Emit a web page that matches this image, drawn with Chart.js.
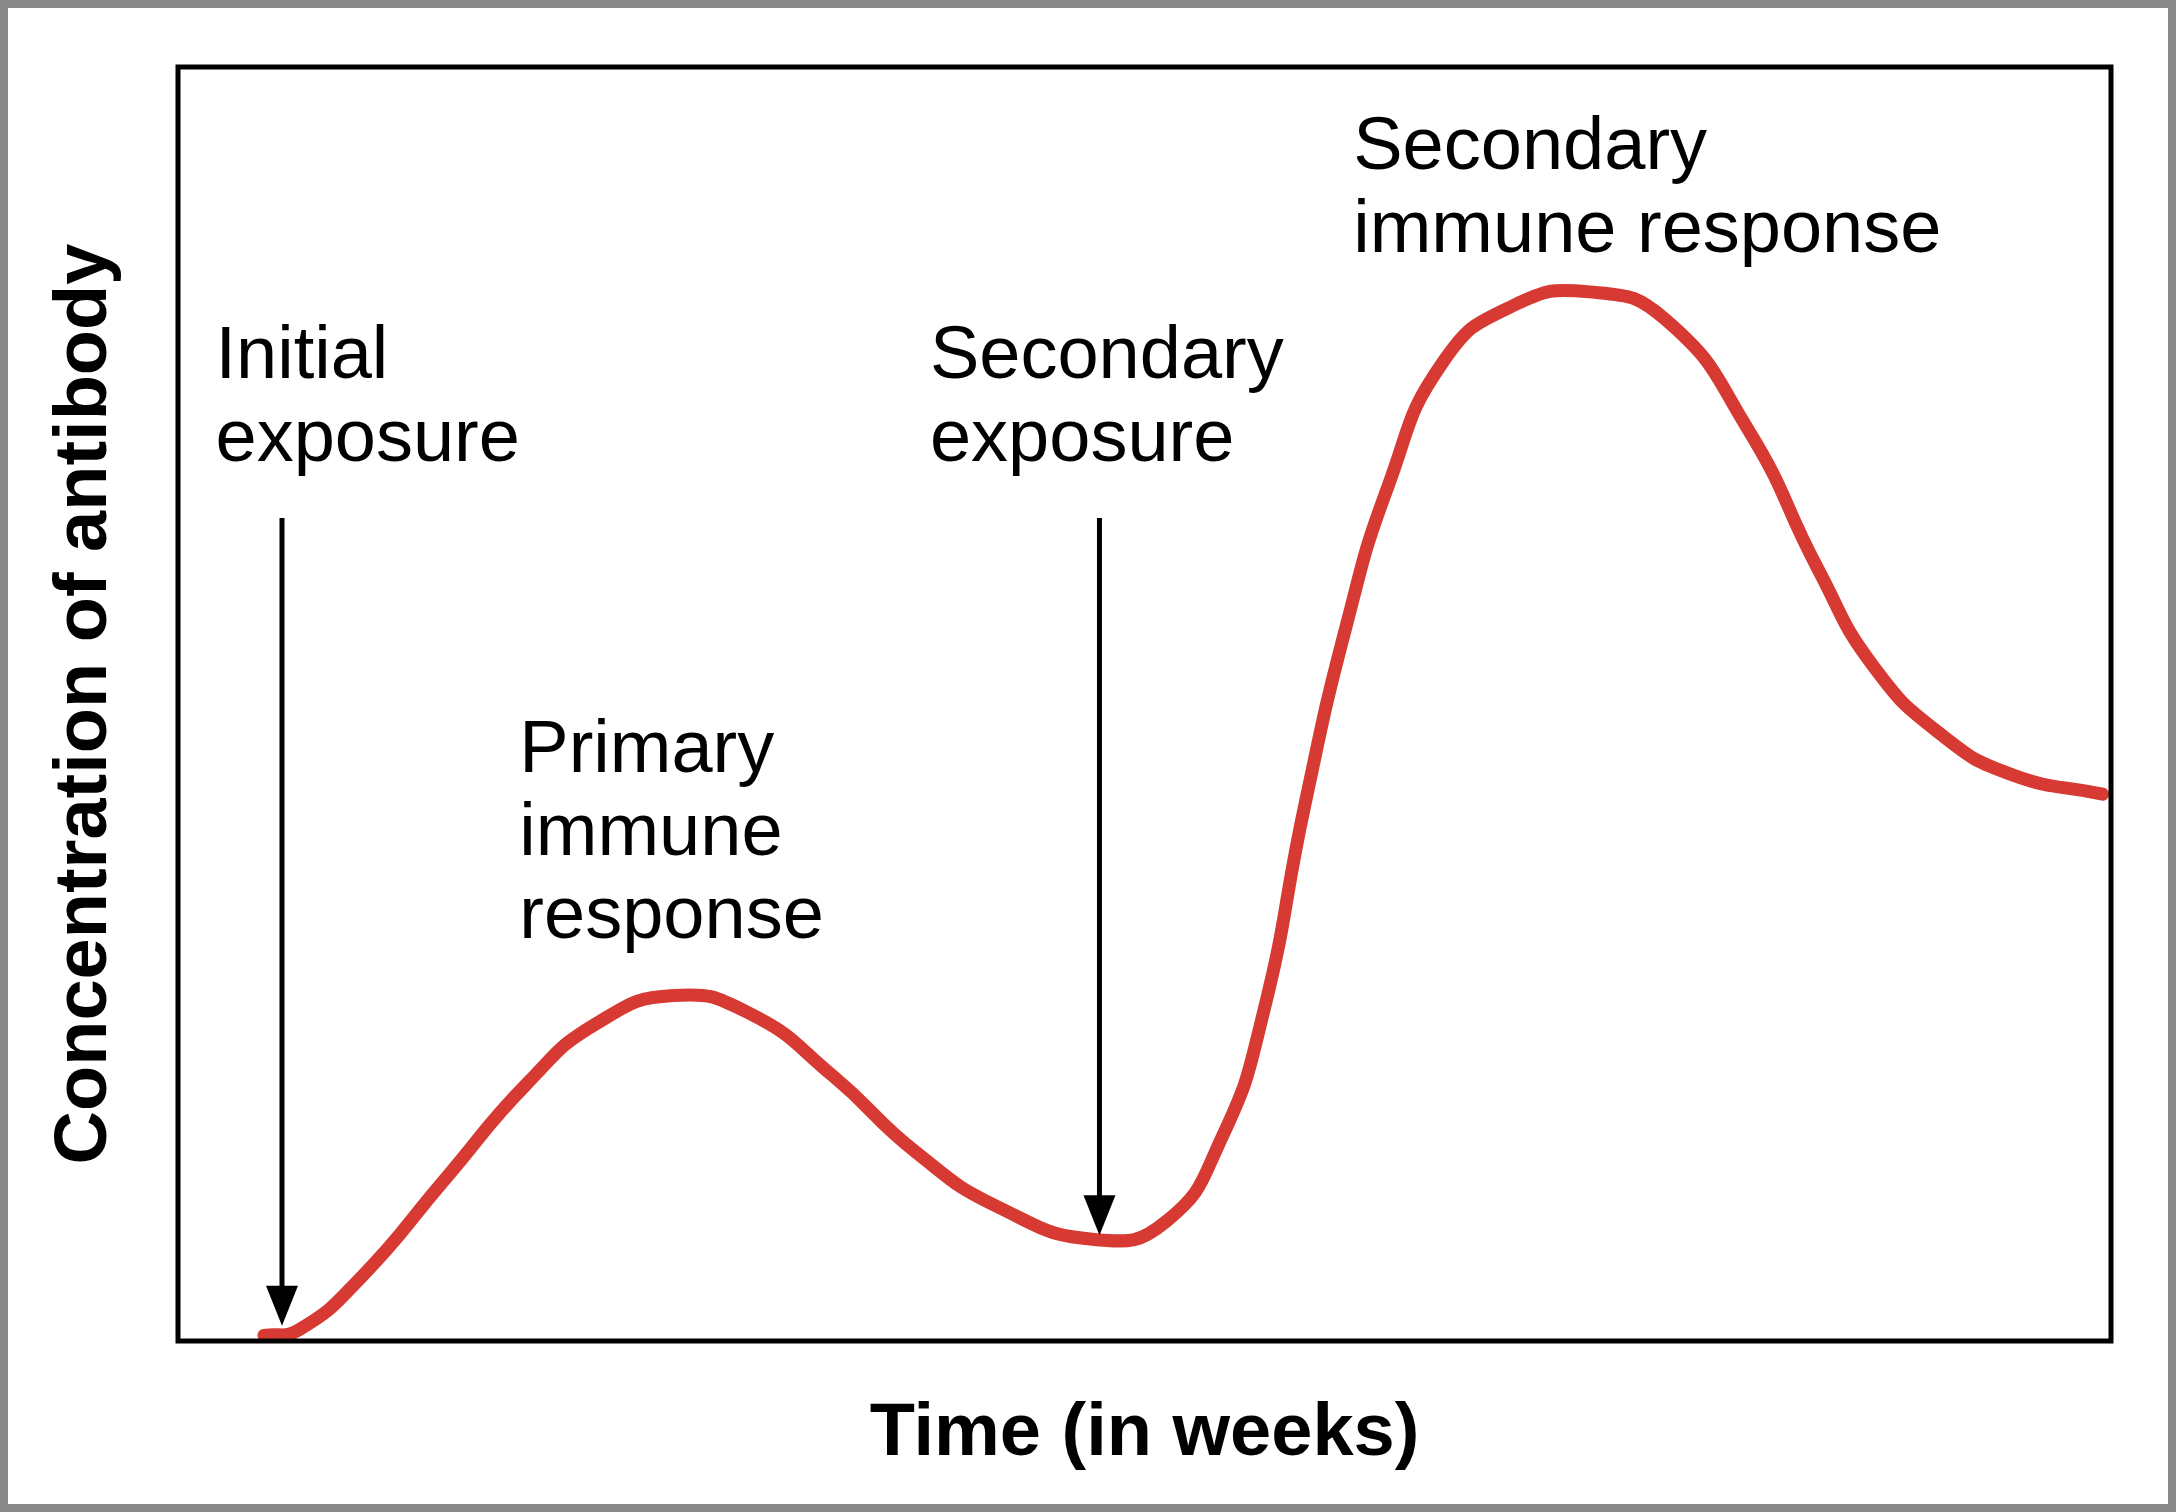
<!DOCTYPE html>
<html><head><meta charset="utf-8">
<script src="https://cdn.jsdelivr.net/npm/chart.js@4/dist/chart.umd.min.js"></script>
<style>html,body{margin:0;padding:0;background:#fff}#w{width:2176px;height:1512px}</style>
</head><body><div id="w"><canvas id="c" width="2176" height="1512"></canvas></div>
<script>
const timeX = [4.45,6.25,9.48,13.78,18.09,21.68,25.63,29.58,33.88,38.19,42.5,47.52,51.11,53.98,56.14,58.29,60.45,62.6,65.47,69.06,73.01,76.96,81.26,84.85,87.72,91.31,94.9,99.57];
const antibody = [0.44,0.87,5.01,12.64,20.26,24.95,27.12,25.71,20.81,14.81,10.46,7.95,9.37,15.9,25.71,42.05,56.21,67.1,76.9,81.26,82.35,80.17,71.46,60.57,52.94,47.49,44.44,42.92];
const labels = [
  {x:1.94, y:[75.6,69.06], lines:["Initial","exposure"]},
  {x:38.9, y:[75.6,69.06], lines:["Secondary","exposure"]},
  {x:17.66, y:[44.66,38.13,31.6], lines:["Primary","immune","response"]},
  {x:60.8, y:[92.0,85.5], lines:["Secondary","immune response"]}
];
const arrows = [{x:5.38, from:64.6, to:1.2},{x:47.67, from:64.6, to:8.3}];
const xTitle = "Time (in weeks)";
const yTitle = "Concentration of antibody";

const deco = {
  id:'deco',
  afterDraw(chart){
    const {ctx, chartArea:a, scales:{x,y}} = chart;
    ctx.save();
    ctx.strokeStyle='#8a8a8a'; ctx.lineWidth=8;
    ctx.strokeRect(4,4,2168,1504);
    ctx.strokeStyle='#000'; ctx.lineWidth=5;
    ctx.strokeRect(a.left,a.top,a.right-a.left,a.bottom-a.top);
    ctx.fillStyle='#000'; ctx.font='74px "Liberation Sans", Arial, sans-serif';
    ctx.textBaseline='alphabetic'; ctx.textAlign='left';
    labels.forEach(l=>l.lines.forEach((t,i)=>ctx.fillText(t,x.getPixelForValue(l.x),y.getPixelForValue(l.y[i]))));
    ctx.lineWidth=5;
    arrows.forEach(ar=>{
      const px=x.getPixelForValue(ar.x), y0=y.getPixelForValue(ar.from), y1=y.getPixelForValue(ar.to);
      ctx.beginPath(); ctx.moveTo(px,y0); ctx.lineTo(px,y1-30); ctx.stroke();
      ctx.beginPath(); ctx.moveTo(px,y1); ctx.lineTo(px-16,y1-40); ctx.lineTo(px+16,y1-40); ctx.closePath(); ctx.fill();
    });
    ctx.font='bold 74px "Liberation Sans", Arial, sans-serif';
    ctx.textAlign='center';
    ctx.fillText(xTitle,(a.left+a.right)/2,1455);
    ctx.translate(86,(a.top+a.bottom)/2); ctx.rotate(-Math.PI/2);
    ctx.textBaseline='middle'; ctx.fillText(yTitle,0,0);
    ctx.restore();
  }
};

new Chart(document.getElementById('c'),{
  type:'line',
  data:{datasets:[{data:timeX.map((v,i)=>({x:v,y:antibody[i]})),borderColor:'#d63a33',borderWidth:13,pointRadius:0,tension:0.5,fill:false,borderCapStyle:'round',borderJoinStyle:'round'}]},
  options:{responsive:false,animation:false,devicePixelRatio:1,
    layout:{padding:{left:178,top:67,right:65,bottom:171}},
    plugins:{legend:{display:false},tooltip:{enabled:false}},
    scales:{
      x:{type:'linear',min:0,max:100,display:false},
      y:{type:'linear',min:0,max:100,display:false}
    }},
  plugins:[deco]
});
</script></body></html>
